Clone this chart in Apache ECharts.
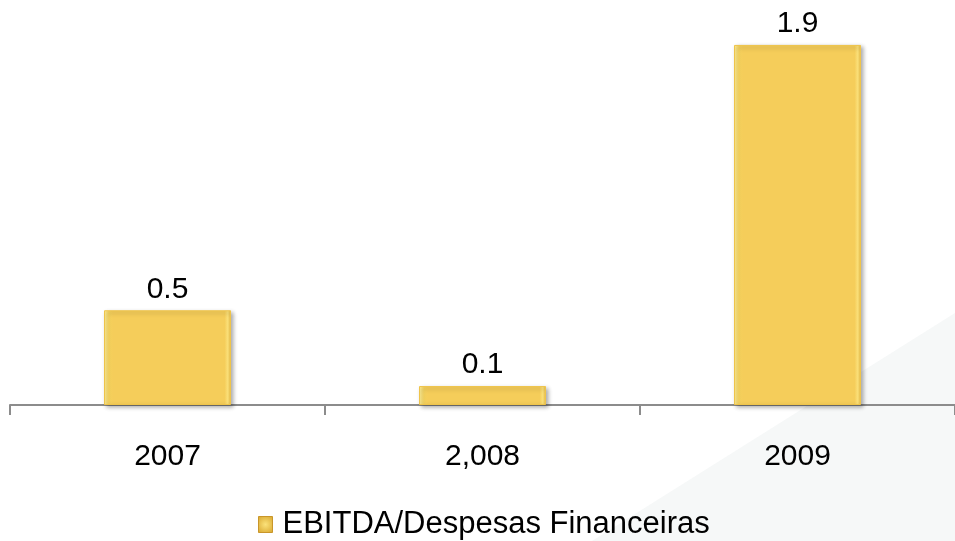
<!DOCTYPE html>
<html>
<head>
<meta charset="utf-8">
<script src="https://cdn.jsdelivr.net/npm/echarts@6/dist/echarts.min.js"></script>
<style>html,body{margin:0;padding:0;background:#fff;}#c{width:955px;height:541px;}</style>
</head>
<body>
<div id="c"></div>
<script>
var categories = ['2007', '2,008', '2009'];
var seriesName = 'EBITDA/Despesas Financeiras';
var values = [0.5, 0.1, 1.9];

var FONT = 'Liberation Sans, Arial, sans-serif';
var chart = echarts.init(document.getElementById('c'));
var barFill = {
  type: 'linear', x: 0, y: 0, x2: 1, y2: 0,
  colorStops: [
    {offset: 0, color: '#FFF09A'},
    {offset: 0.04, color: '#F6D35E'},
    {offset: 0.07, color: '#F5CD5A'},
    {offset: 0.95, color: '#F5CD5A'},
    {offset: 0.975, color: '#FBE17A'},
    {offset: 1, color: '#E8B942'}
  ]
};
chart.setOption({
  animation: false,
  backgroundColor: '#ffffff',
  textStyle: {fontFamily: FONT},
  graphic: [{
    type: 'polygon', z: -10, silent: true,
    shape: {points: [[592, 541], [955, 313], [955, 541]]},
    style: {fill: '#F6F8F8'}
  }],
  grid: {left: 10, width: 950, top: 26, height: 379, containLabel: false},
  legend: {
    left: 253, top: 504,
    itemWidth: 14, itemHeight: 16,
    icon: 'rect',
    textStyle: {fontSize: 31, color: '#000', fontFamily: FONT, padding: [0, 0, 0, 5]},
    data: [{name: seriesName, itemStyle: {
      color: {type: 'radial', x: 0.5, y: 0.5, r: 0.7, colorStops: [
        {offset: 0, color: '#FBE27A'}, {offset: 1, color: '#D9A830'}
      ]},
      borderColor: '#C9962A', borderWidth: 1}}]
  },
  xAxis: {
    type: 'category', data: categories,
    axisLine: {lineStyle: {color: '#8C8C8C', width: 2}},
    axisTick: {show: true, length: 10, lineStyle: {color: '#8C8C8C', width: 2}},
    axisLabel: {fontSize: 30, color: '#000', margin: 37, fontFamily: FONT}
  },
  yAxis: {
    type: 'value', min: 0, max: 2, show: false,
    splitLine: {show: false}
  },
  series: [{
    name: seriesName, type: 'bar', data: values,
    barWidth: 127,
    itemStyle: {
      color: barFill,
      borderColor: '#EFC44A', borderWidth: 1,
      shadowColor: 'rgba(0,0,0,0.3)', shadowBlur: 4, shadowOffsetX: 2, shadowOffsetY: 2
    },
    label: {
      show: true, position: 'top', distance: 6,
      fontSize: 30, color: '#000', fontFamily: FONT,
      formatter: function (p) { return p.value.toFixed(1); }
    }
  }]
});
</script>
</body>
</html>
